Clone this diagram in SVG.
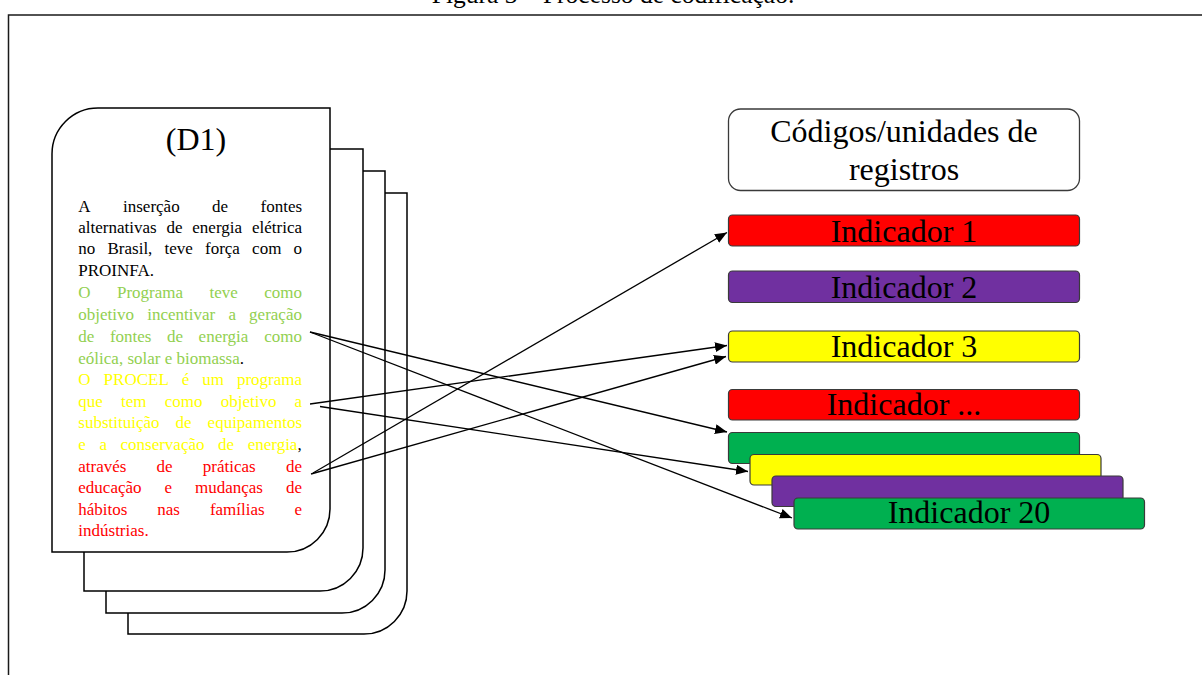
<svg xmlns="http://www.w3.org/2000/svg" width="1202" height="675" viewBox="0 0 1202 675">
  <style>
    .serif { font-family: "Liberation Serif", "Times New Roman", serif; }
    .page { fill: #ffffff; stroke: #000000; stroke-width: 1.5; }
    .box { stroke: #3a3a3a; stroke-width: 1.2; }
    .lbl { font-size: 32px; fill: #000000; text-anchor: middle; }
    .body { font-size: 17px; }
    .blk { fill: #000000; }
    .grn { fill: #92D050; }
    .yel { fill: #FFFF00; }
    .red { fill: #FF0000; }
    .conn { fill: none; stroke: #000000; stroke-width: 1.3; marker-end: url(#ah); }
  </style>
  <defs>
    <marker id="ah" markerUnits="userSpaceOnUse" markerWidth="12" markerHeight="10" viewBox="0 0 12 10" refX="12" refY="5" orient="auto">
      <path d="M0,0 L12,5 L0,10 Z" fill="#000000"/>
    </marker>
  </defs>

  <rect width="1202" height="675" fill="#ffffff"/>

  <!-- caption and frame -->
  <text class="serif" x="613" y="2.5" font-size="25.5" text-anchor="middle" fill="#000000">Figura 3 – Processo de codificação.</text>
  <path d="M1202,15 H8.5 V675" fill="none" stroke="#1a1a1a" stroke-width="1.5"/>

  <!-- document stack -->
  <g id="documents">
    <path class="page" d="M128,634 V239 A46,46 0 0 1 174,193 H407 V591 A43,43 0 0 1 364,634 Z"/>
    <path class="page" d="M106,613 V217 A46,46 0 0 1 152,171 H385 V570 A43,43 0 0 1 342,613 Z"/>
    <path class="page" d="M84,591 V195 A46,46 0 0 1 130,149 H363 V548 A43,43 0 0 1 320,591 Z"/>
    <path class="page" d="M52,552 V154 A46,46 0 0 1 98,108 H330 V509 A43,43 0 0 1 287,552 Z"/>
    <text class="serif" x="196" y="150" font-size="32" text-anchor="middle" fill="#000000">(D1)</text>

    <text class="serif body">
      <!-- paragraph 1 -->
      <tspan class="blk" x="78.3" y="211.7">A</tspan>
      <tspan class="blk" x="123" y="211.7">inserção</tspan>
      <tspan class="blk" x="212" y="211.7">de</tspan>
      <tspan class="blk" x="260.5" y="211.7">fontes</tspan>

      <tspan class="blk" x="78.3" y="233">alternativas</tspan>
      <tspan class="blk" x="166.5" y="233">de</tspan>
      <tspan class="blk" x="192.3" y="233">energia</tspan>
      <tspan class="blk" x="252" y="233">elétrica</tspan>

      <tspan class="blk" x="78.3" y="254.3">no</tspan>
      <tspan class="blk" x="107.5" y="254.3">Brasil,</tspan>
      <tspan class="blk" x="164.5" y="254.3">teve</tspan>
      <tspan class="blk" x="205" y="254.3">força</tspan>
      <tspan class="blk" x="252.1" y="254.3">com</tspan>
      <tspan class="blk" x="293.5" y="254.3">o</tspan>

      <tspan class="blk" x="78.3" y="275.6">PROINFA.</tspan>

      <!-- paragraph 2 -->
      <tspan class="grn" x="78.3" y="298.4">O</tspan>
      <tspan class="grn" x="117" y="298.4">Programa</tspan>
      <tspan class="grn" x="209.5" y="298.4">teve</tspan>
      <tspan class="grn" x="264.2" y="298.4">como</tspan>

      <tspan class="grn" x="78.3" y="320.1">objetivo</tspan>
      <tspan class="grn" x="147.2" y="320.1">incentivar</tspan>
      <tspan class="grn" x="228.4" y="320.1">a</tspan>
      <tspan class="grn" x="249.1" y="320.1">geração</tspan>

      <tspan class="grn" x="78.3" y="341.9">de</tspan>
      <tspan class="grn" x="109.9" y="341.9">fontes</tspan>
      <tspan class="grn" x="167" y="341.9">de</tspan>
      <tspan class="grn" x="198.6" y="341.9">energia</tspan>
      <tspan class="grn" x="264.2" y="341.9">como</tspan>

      <tspan class="grn" x="78.3" y="363.6">eólica,  solar e biomassa</tspan><tspan class="blk">.</tspan>

      <!-- paragraph 3 -->
      <tspan class="yel" x="78.3" y="385">O</tspan>
      <tspan class="yel" x="103.6" y="385">PROCEL</tspan>
      <tspan class="yel" x="181.8" y="385">é</tspan>
      <tspan class="yel" x="202.3" y="385">um</tspan>
      <tspan class="yel" x="236.9" y="385">programa</tspan>

      <tspan class="yel" x="78.3" y="406.7">que</tspan>
      <tspan class="yel" x="121" y="406.7">tem</tspan>
      <tspan class="yel" x="164.7" y="406.7">como</tspan>
      <tspan class="yel" x="220.7" y="406.7">objetivo</tspan>
      <tspan class="yel" x="294.5" y="406.7">a</tspan>

      <tspan class="yel" x="78.3" y="428.3">substituição</tspan>
      <tspan class="yel" x="175.6" y="428.3">de</tspan>
      <tspan class="yel" x="207.6" y="428.3">equipamentos</tspan>

      <tspan class="yel" x="78.3" y="450">e</tspan>
      <tspan class="yel" x="99.4" y="450">a</tspan>
      <tspan class="yel" x="120.5" y="450">conservação</tspan>
      <tspan class="yel" x="218.1" y="450">de</tspan>
      <tspan class="yel" x="247.7" y="450">energia</tspan><tspan class="blk">,</tspan>

      <!-- paragraph 4 -->
      <tspan class="red" x="78.3" y="471.6">através</tspan>
      <tspan class="red" x="156.6" y="471.6">de</tspan>
      <tspan class="red" x="202.8" y="471.6">práticas</tspan>
      <tspan class="red" x="286" y="471.6">de</tspan>

      <tspan class="red" x="78.3" y="493.2">educação</tspan>
      <tspan class="red" x="164.5" y="493.2">e</tspan>
      <tspan class="red" x="195" y="493.2">mudanças</tspan>
      <tspan class="red" x="286" y="493.2">de</tspan>

      <tspan class="red" x="78.3" y="514.8">hábitos</tspan>
      <tspan class="red" x="157.3" y="514.8">nas</tspan>
      <tspan class="red" x="209.9" y="514.8">famílias</tspan>
      <tspan class="red" x="294.5" y="514.8">e</tspan>

      <tspan class="red" x="78.3" y="536.4">indústrias.</tspan>
    </text>
  </g>

  <!-- code / indicator column -->
  <g id="codigos">
    <rect x="728.5" y="109" width="351" height="81.5" rx="12" fill="#ffffff" stroke="#3a3a3a" stroke-width="1.3"/>
    <text class="serif lbl" x="904" y="141.5">Códigos/unidades de</text>
    <text class="serif lbl" x="904" y="179.5">registros</text>
  </g>
  <g id="indicador-1">
    <rect class="box" x="728.5" y="215" width="351" height="31" rx="4" fill="#FF0000"/>
    <text class="serif lbl" x="904" y="241.5">Indicador 1</text>
  </g>
  <g id="indicador-2">
    <rect class="box" x="728.5" y="271" width="351" height="31.5" rx="4" fill="#7030A0"/>
    <text class="serif lbl" x="904" y="297.5">Indicador 2</text>
  </g>
  <g id="indicador-3">
    <rect class="box" x="728.5" y="331" width="351" height="31" rx="4" fill="#FFFF00"/>
    <text class="serif lbl" x="904" y="356.5">Indicador 3</text>
  </g>
  <g id="indicador-etc">
    <rect class="box" x="728.5" y="389.5" width="351" height="30.5" rx="4" fill="#FF0000"/>
    <text class="serif lbl" x="904" y="415">Indicador ...</text>
  </g>
  <g id="indicador-stack">
    <rect class="box" x="728.5" y="432.5" width="351" height="31" rx="4" fill="#00B050"/>
    <rect class="box" x="750" y="454.5" width="351" height="30.5" rx="4" fill="#FFFF00"/>
    <rect class="box" x="772" y="476" width="351" height="30.5" rx="4" fill="#7030A0"/>
  </g>
  <g id="indicador-20">
    <rect class="box" x="794" y="498" width="350.5" height="31" rx="4" fill="#00B050"/>
    <text class="serif lbl" x="969" y="523">Indicador 20</text>
  </g>

  <!-- connectors -->
  <g id="connectors">
    <path class="conn" d="M310,332 L727,432"/>
    <path class="conn" d="M310,332 L792,518"/>
    <path class="conn" d="M310,404 L727,345.5"/>
    <path class="conn" d="M320,406.5 L748,471.5"/>
    <path class="conn" d="M311,474 L726,356.5"/>
    <path class="conn" d="M313,473 L727,232.5"/>
  </g>
</svg>
